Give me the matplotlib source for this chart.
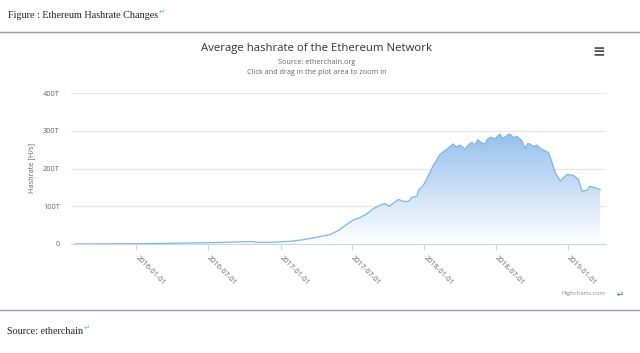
import numpy as np
import pandas as pd
import matplotlib
matplotlib.use("Agg")
import matplotlib.pyplot as plt
import matplotlib.dates as mdates
from matplotlib.colors import LinearSegmentedColormap

# average hashrate (TH/s)
dates = ["2015-07-30", "2015-10-01", "2016-01-01", "2016-03-15", "2016-05-01",
         "2016-07-01", "2016-09-01", "2016-10-20", "2016-11-01", "2016-12-05",
         "2017-01-25", "2017-02-28", "2017-04-03", "2017-05-07", "2017-05-28",
         "2017-06-18", "2017-07-05", "2017-07-22", "2017-08-08", "2017-08-25",
         "2017-09-11", "2017-09-23", "2017-10-04", "2017-10-19", "2017-10-27",
         "2017-11-09", "2017-11-22", "2017-11-30", "2017-12-13", "2017-12-17",
         "2017-12-30", "2018-01-12", "2018-01-23", "2018-02-10", "2018-02-27",
         "2018-03-07", "2018-03-15", "2018-03-22", "2018-04-02", "2018-04-14",
         "2018-04-22", "2018-05-01", "2018-05-09", "2018-05-17", "2018-05-26",
         "2018-06-04", "2018-06-10", "2018-06-17", "2018-06-30", "2018-07-06",
         "2018-07-12", "2018-07-18", "2018-07-25", "2018-08-01", "2018-08-07",
         "2018-08-15", "2018-08-24", "2018-09-05", "2018-09-14", "2018-09-20",
         "2018-09-26", "2018-10-05", "2018-10-13", "2018-10-26", "2018-11-12",
         "2018-11-21", "2018-11-29", "2018-12-12", "2018-12-20", "2018-12-29",
         "2019-01-14", "2019-01-27", "2019-02-05", "2019-02-17", "2019-02-26",
         "2019-03-10", "2019-03-23"]
hashrate = [0, 0.3, 0.8, 1.5, 2.5,
            3.5, 5, 6.5, 4.5, 4.5,
            7, 11.5, 18, 25, 36,
            52, 64, 70, 80, 94,
            103, 107, 100, 112, 118,
            113, 113, 123, 127, 143,
            156, 183, 207, 238, 251,
            258, 265, 257, 262, 251,
            262, 269, 263, 276, 268,
            265, 277, 283, 279, 286,
            291, 280, 283, 290, 291,
            282, 285, 274, 253, 266,
            265, 258, 262, 251, 242,
            216, 189, 167, 176, 184,
            182, 171, 140, 142, 153,
            149, 144]

tick_dates = ["2016-01-01", "2016-07-01", "2017-01-01", "2017-07-01",
              "2018-01-01", "2018-07-01", "2019-01-01"]
y_ticks = [0, 100, 200, 300, 400]
y_labels = ["0", "100T", "200T", "300T", "400T"]

W, H = 640, 353
fig = plt.figure(figsize=(W / 100, H / 100), dpi=100)

def px(x, y):
    return x / W, 1 - y / H

# page text around the chart
fig.text(*px(8, 16), "Figure : Ethereum Hashrate Changes", family="Liberation Serif",
         fontsize=7.3, color="#222222", va="center")
fig.text(*px(159, 12), "\u21b5", fontsize=5, color="#6fa8dc", va="center")
fig.add_artist(plt.Line2D([0, 1], [1 - 32 / H] * 2, color="#9a98b8", lw=1))
fig.add_artist(plt.Line2D([0, 1], [1 - 310 / H] * 2, color="#9a98b8", lw=1))
fig.text(*px(7, 332), "Source: etherchain", family="Liberation Serif",
         fontsize=7.3, color="#222222", va="center")
fig.text(*px(84, 328), "\u21b5", fontsize=5, color="#6fa8dc", va="center")

# chart header
fig.text(*px(317, 49), "Average hashrate of the Ethereum Network", family="Open Sans",
         fontsize=8.2, color="#333333", ha="center", va="center")
fig.text(*px(317, 63), "Source: etherchain.org", family="Open Sans",
         fontsize=5.2, color="#666666", ha="center", va="center")
fig.text(*px(317, 73), "Click and drag in the plot area to zoom in", family="Open Sans",
         fontsize=5.2, color="#666666", ha="center", va="center")
fig.text(*px(599, 52), "\u2261", fontsize=11, color="#555555", ha="center", va="center",
         weight="bold")
fig.text(*px(605, 293), "Highcharts.com", family="Open Sans", fontsize=4.3,
         color="#888888", ha="right", va="center")
fig.text(*px(620, 294), "\u21b5", fontsize=6, color="#3d85d8", ha="center", va="center",
         weight="bold")

# plot area
left, right, top, bottom = 71, 606, 93, 244
ax = fig.add_axes([left / W, 1 - bottom / H, (right - left) / W, (bottom - top) / H])

x = pd.to_datetime(dates)
y = np.array(hashrate)

x0 = mdates.date2num(pd.Timestamp("2015-07-19"))
x1 = mdates.date2num(pd.Timestamp("2019-04-07"))
ax.set_xlim(x0, x1)
ax.set_ylim(0, 400)

# gradient fill under the line
cmap = LinearSegmentedColormap.from_list("hc", ["#ffffff", "#6fa9e6"])
grad = np.linspace(0, 1, 256).reshape(-1, 1)
img = ax.imshow(grad, cmap=cmap, aspect="auto", origin="lower",
                extent=[x0, x1, 0, 400], zorder=2)
poly = ax.fill_between(x, y, 0, color="none", lw=0)
img.set_clip_path(poly.get_paths()[0], transform=ax.transData)
ax.plot(x, y, color="#7cb5ec", lw=0.9, zorder=3)

for s in ["left", "right", "top"]:
    ax.spines[s].set_visible(False)
ax.spines["bottom"].set_color("#ccd6eb")
ax.spines["bottom"].set_linewidth(0.8)

ax.set_yticks(y_ticks)
ax.set_yticklabels(y_labels)
ax.yaxis.grid(True, color="#e6e6e6", lw=0.8)
ax.set_axisbelow(True)
ax.tick_params(axis="y", length=0, pad=8, labelsize=5.3, labelcolor="#666666")

ax.set_xticks(mdates.date2num(pd.to_datetime(tick_dates)))
ax.set_xticklabels(tick_dates, rotation=-45, rotation_mode="anchor",
                   ha="left", va="center")
ax.tick_params(axis="x", length=4, width=0.8, color="#ccd6eb", pad=5,
               labelsize=5.3, labelcolor="#666666")
for lab in ax.get_xticklabels():
    lab.set_family("Open Sans")
for lab in ax.get_yticklabels():
    lab.set_family("Open Sans")

fig.text(*px(32, 168), "Hashrate [H/s]", family="Open Sans", fontsize=5.3,
         color="#666666", rotation=90, ha="center", va="center")

fig.savefig("out.png", dpi=100)
